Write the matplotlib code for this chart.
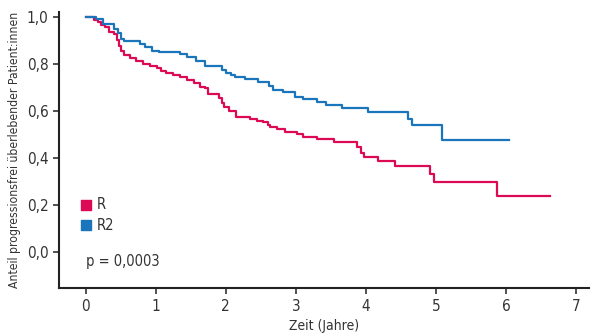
import matplotlib
matplotlib.use("Agg")
import matplotlib.pyplot as plt

plt.rcParams['font.family'] = ['DejaVu Sans']
plt.rcParams['font.stretch'] = 'condensed'

# Kaplan-Meier steps: (time in years, survival fraction)
r_time = [0, 0.12, 0.17, 0.22, 0.27, 0.33, 0.40, 0.44, 0.47, 0.50, 0.55, 0.63,
          0.72, 0.82, 0.92, 1.01, 1.08, 1.15, 1.25, 1.35, 1.44, 1.55, 1.63,
          1.70, 1.74, 1.90, 1.94, 1.98, 2.05, 2.15, 2.34, 2.45, 2.53, 2.60,
          2.63, 2.73, 2.84, 3.02, 3.10, 3.30, 3.55, 3.87, 3.93, 3.97, 4.17,
          4.41, 4.92, 4.98, 5.87, 6.63]
r_surv = [1.0, 0.985, 0.976, 0.965, 0.957, 0.936, 0.925, 0.90, 0.875, 0.855,
          0.838, 0.823, 0.81, 0.80, 0.79, 0.78, 0.77, 0.762, 0.752, 0.742,
          0.731, 0.718, 0.702, 0.695, 0.671, 0.655, 0.635, 0.617, 0.60, 0.574,
          0.563, 0.557, 0.551, 0.54, 0.532, 0.522, 0.511, 0.50, 0.489, 0.478,
          0.468, 0.445, 0.42, 0.404, 0.387, 0.365, 0.332, 0.295, 0.236, 0.236]

r2_time = [0, 0.15, 0.25, 0.40, 0.46, 0.50, 0.55, 0.77, 0.85, 0.95, 1.05, 1.34,
           1.45, 1.57, 1.70, 1.95, 2.00, 2.07, 2.13, 2.27, 2.46, 2.62, 2.68,
           2.81, 2.99, 3.10, 3.30, 3.43, 3.66, 4.03, 4.60, 4.66, 5.09, 6.04]
r2_surv = [1.0, 0.99, 0.968, 0.95, 0.93, 0.905, 0.898, 0.885, 0.87, 0.855,
           0.848, 0.84, 0.83, 0.813, 0.79, 0.775, 0.76, 0.75, 0.745, 0.734,
           0.722, 0.705, 0.69, 0.678, 0.66, 0.648, 0.636, 0.626, 0.613, 0.595,
           0.566, 0.539, 0.477, 0.477]

groups = ["R", "R2"]
colors = ["#dc0a55", "#1a75bb"]
x_ticks = [0, 1, 2, 3, 4, 5, 6, 7]
y_ticks = [0.0, 0.2, 0.4, 0.6, 0.8, 1.0]
p_text = "p = 0,0003"

fig = plt.figure(figsize=(6, 3.35), dpi=100)
ax = fig.add_axes([0.098, 0.14, 0.884, 0.824])

ax.step(r_time, r_surv, where='post', color=colors[0], lw=1.6)
ax.step(r2_time, r2_surv, where='post', color=colors[1], lw=1.6)

ax.set_xlim(-0.386, 7.19)
ax.set_ylim(-0.155, 1.02)
ax.set_xticks(x_ticks)
ax.set_xticklabels([str(t) for t in x_ticks])
ax.set_yticks(y_ticks)
ax.set_yticklabels([f"{v:.1f}".replace(".", ",") for v in y_ticks])

for s in ['top', 'right']:
    ax.spines[s].set_visible(False)
for s in ['left', 'bottom']:
    ax.spines[s].set_color('#222222')
    ax.spines[s].set_linewidth(1.5)
ax.tick_params(colors='#333333', labelsize=11, length=4, width=1.2)

ax.set_xlabel("Zeit (Jahre)", fontsize=10, color='#333333')
ax.set_ylabel("Anteil progressionsfrei überlebender Patient:innen", fontsize=8.7,
              color='#333333', labelpad=4)

# legend squares
for i, (g, c) in enumerate(zip(groups, colors)):
    yy = 0.2 - i * 0.088
    ax.scatter([0.0], [yy], marker='s', s=52, color=c)
    ax.text(0.15, yy, g, va='center', ha='left', fontsize=10.5, color='#333333')

ax.text(0.0, -0.04, p_text, va='center', ha='left', fontsize=10.5, color='#333333')

fig.savefig("out.png", dpi=100)
